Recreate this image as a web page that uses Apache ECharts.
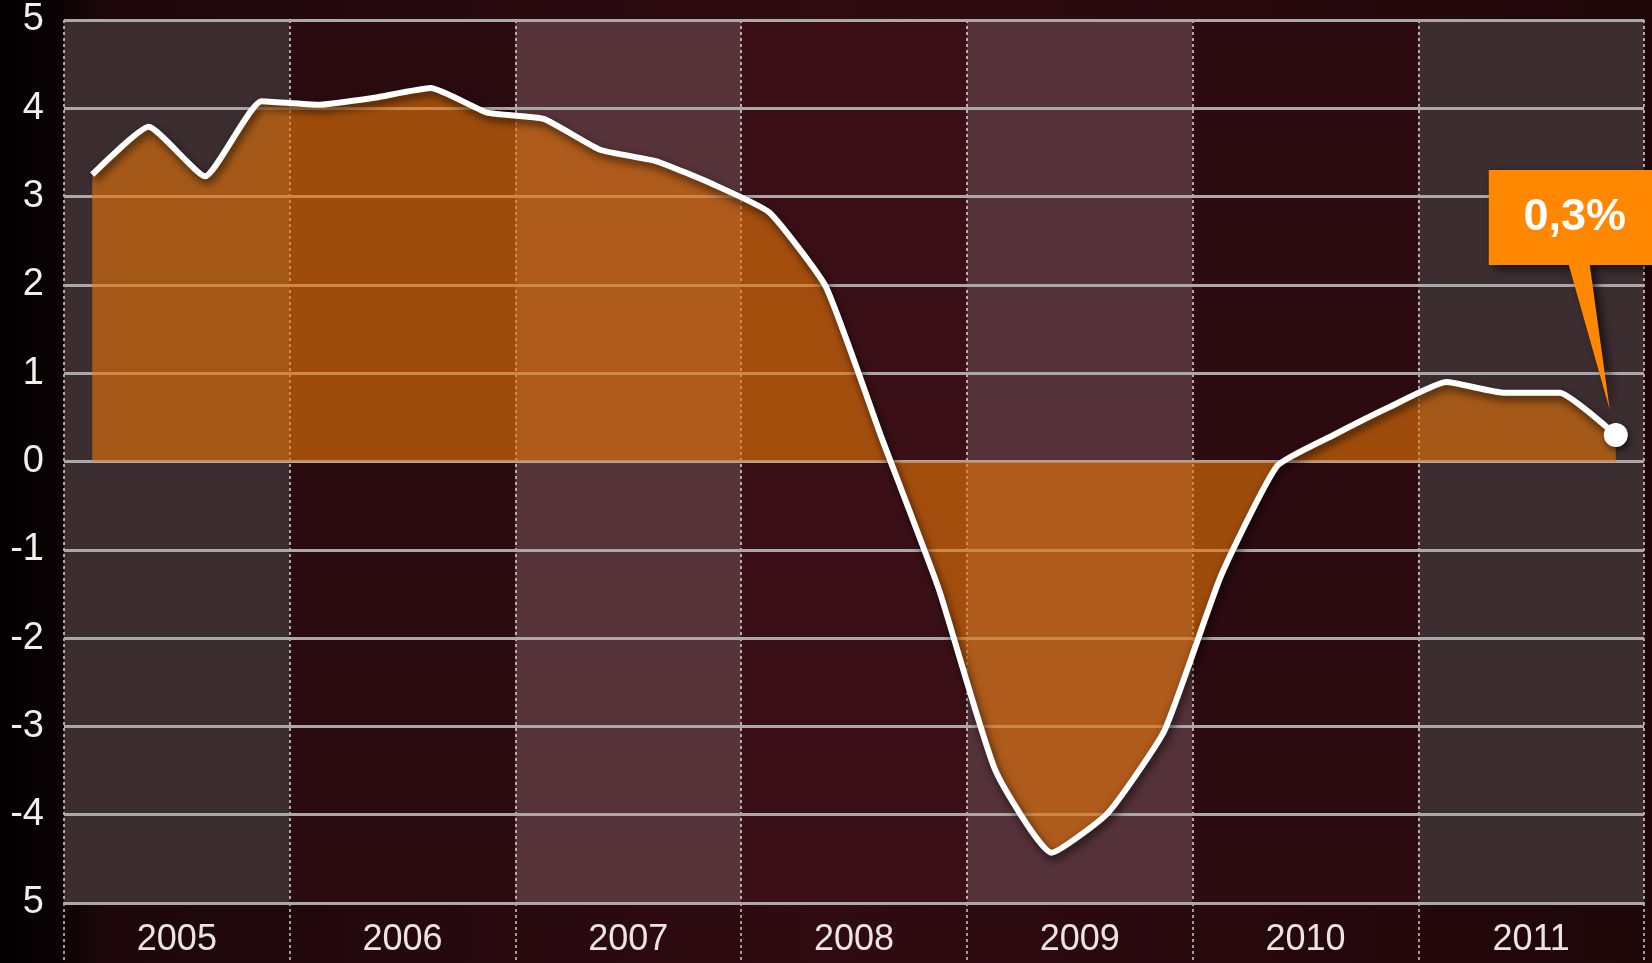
<!DOCTYPE html>
<html>
<head>
<meta charset="utf-8">
<script src="https://cdn.jsdelivr.net/npm/echarts@6/dist/echarts.min.js"></script>
<style>
html,body{margin:0;padding:0;background:#050102;}
#chart{width:1652px;height:963px;}
</style>
</head>
<body>
<div id="chart"></div>
<script>
// ---- data ----
const years = ['2005', '2006', '2007', '2008', '2009', '2010', '2011'];
const quarterNames = ['Q1', 'Q2', 'Q3', 'Q4'];
const values = [
  3.25, 3.79, 3.23, 4.08,
  4.04, 4.12, 4.23, 3.95,
  3.88, 3.53, 3.40, 3.14,
  2.82, 1.98, 0.25, -1.44,
  -3.49, -4.43, -3.98, -3.05,
  -1.30, -0.05, 0.30, 0.62,
  0.90, 0.78, 0.78, 0.30
];
const yTickValues = [5, 4, 3, 2, 1, 0, -1, -2, -3, -4, -5];
const yTickLabels = ['5', '4', '3', '2', '1', '0', '-1', '-2', '-3', '-4', '5'];

// ---- build ----
const quarters = [];
years.forEach(y => quarterNames.forEach(q => quarters.push(y + q)));
const lastIdx = values.length - 1;
const lineData = values.map((v, i) => i === lastIdx
  ? { value: v, symbol: 'circle', symbolSize: 24 }
  : v);
const calloutText = String(values[lastIdx]).replace('.', ',') + '%';

const labelFont = "'Liberation Sans', Arial, sans-serif";

const chart = echarts.init(document.getElementById('chart'), null, { renderer: 'canvas' });
chart.setOption({
  animation: false,
  backgroundColor: {
    type: 'linear', x: 0, y: 0, x2: 1, y2: 0,
    colorStops: [
      { offset: 0, color: '#030001' },
      { offset: 0.035, color: '#0a0204' },
      { offset: 0.06, color: '#1c070a' },
      { offset: 0.5, color: '#300b12' },
      { offset: 1, color: '#1e0609' }
    ]
  },
  grid: { left: 64, right: 8, top: 20, bottom: 60, containLabel: false },
  xAxis: [
    {
      type: 'category',
      data: quarters,
      boundaryGap: true,
      show: false
    },
    {
      type: 'category',
      data: years,
      boundaryGap: true,
      position: 'bottom',
      z: 0,
      axisLine: { show: false },
      axisTick: {
        show: true, length: 60, inside: false,
        lineStyle: { color: 'rgba(210,200,200,0.75)', width: 2, type: [3, 3] }
      },
      axisLabel: {
        color: '#ece4e4', fontSize: 36, fontFamily: labelFont, margin: 19
      },
      splitLine: {
        show: true,
        lineStyle: { color: 'rgba(215,205,205,0.8)', width: 2, type: [3, 3] }
      },
      splitArea: {
        show: true,
        areaStyle: {
          color: ['#3b2d30', '#2a0b10', '#563439', '#3a1016', '#553239', '#2c0b11', '#3c2d31']
        }
      }
    }
  ],
  yAxis: {
    type: 'value',
    z: 1,
    min: -5, max: 5, interval: 1,
    axisLine: { show: false },
    axisTick: { show: false },
    axisLabel: {
      color: '#f2eeee', fontSize: 38, fontFamily: labelFont, margin: 20,
      formatter: v => yTickLabels[yTickValues.indexOf(v)]
    },
    splitLine: { lineStyle: { color: '#aca8aa', width: 3 } }
  },
  series: [{
    type: 'line',
    z: 2,
    xAxisIndex: 0,
    data: lineData,
    smooth: 0.15,
    symbol: 'none',
    showSymbol: true,
    itemStyle: { color: '#ffffff', shadowColor: 'rgba(0,0,0,0.6)', shadowBlur: 6, shadowOffsetX: 2, shadowOffsetY: 3 },
    lineStyle: {
      color: '#ffffff', width: 6,
      shadowColor: 'rgba(0,0,0,0.7)', shadowBlur: 8, shadowOffsetX: 2, shadowOffsetY: 4
    },
    areaStyle: { color: 'rgb(229,116,10)', opacity: 0.62 },
    markPoint: {
      symbol: 'path://M0,0 L178,0 L178,95 L101,95 L121,240 L80,95 L0,95 Z',
      symbolSize: [178, 240],
      symbolOffset: [-38, -145],
      symbolKeepAspect: false,
      itemStyle: {
        color: '#ff8800',
        shadowColor: 'rgba(0,0,0,0.65)', shadowBlur: 10, shadowOffsetX: 5, shadowOffsetY: 4
      },
      label: {
        show: true,
        formatter: calloutText,
        color: '#ffffff',
        fontSize: 45,
        fontWeight: 'bold',
        fontFamily: labelFont,
        offset: [-3, -72]
      },
      data: [{ coord: [lastIdx, values[lastIdx]] }]
    }
  }]
});
</script>
</body>
</html>
